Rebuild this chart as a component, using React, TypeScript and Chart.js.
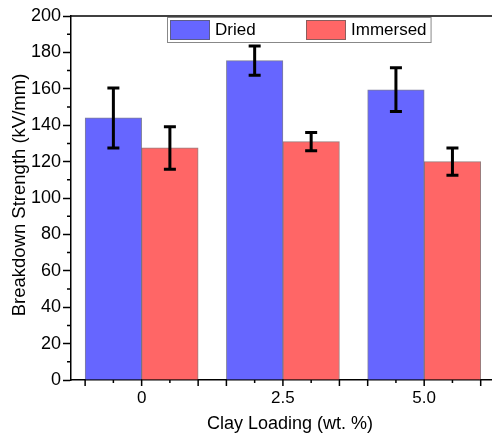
import React, { useEffect, useRef } from 'react';
import { Chart, registerables } from 'chart.js';

Chart.register(...registerables);

const categoryValues = [0, 2.5, 5];
const categoryLabels = ['0', '2.5', '5.0'];
const seriesNames = ['Dried', 'Immersed'];
const driedValues = [144, 175.5, 159.5];
const driedErrors = [16.5, 8, 12];
const immersedValues = [127.5, 131, 120];
const immersedErrors = [11.7, 5, 7.5];
const yMin = 0;
const yMax = 200;
const yStep = 20;
const xMin = -1.25;
const xMax = 6.2;
const xTitle = 'Clay Loading (wt. %)';
const yTitle = 'Breakdown Strength (kV/mm)';

const FONT = '"Liberation Sans", Arial, Helvetica, sans-serif';
const BLUE = '#6666FF';
const RED = '#FF6666';
const GROUP_SHIFT = 0.5; // each bar sits half a unit either side of the category

const errorBarPlugin = {
  id: 'errorBars',
  afterDatasetsDraw(chart: any) {
    const ctx = chart.ctx;
    const y = chart.scales.y;
    chart.data.datasets.forEach((ds: any, di: number) => {
      const meta = chart.getDatasetMeta(di);
      meta.data.forEach((bar: any, i: number) => {
        const v = ds.data[i].y;
        const e = ds.errors[i];
        const top = y.getPixelForValue(v + e);
        const bot = y.getPixelForValue(v - e);
        ctx.save();
        ctx.strokeStyle = '#000';
        ctx.lineWidth = 3;
        ctx.lineCap = 'butt';
        ctx.beginPath();
        ctx.moveTo(bar.x, top);
        ctx.lineTo(bar.x, bot);
        ctx.moveTo(bar.x - 6, top);
        ctx.lineTo(bar.x + 6, top);
        ctx.moveTo(bar.x - 6, bot);
        ctx.lineTo(bar.x + 6, bot);
        ctx.stroke();
        ctx.restore();
      });
    });
  },
};

const decorPlugin = {
  id: 'decor',
  afterDraw(chart: any) {
    const ctx = chart.ctx;
    const area = chart.chartArea;
    const x = chart.scales.x;
    const y = chart.scales.y;
    ctx.save();
    ctx.strokeStyle = '#000';
    ctx.lineWidth = 1.5;
    // frame top
    ctx.beginPath();
    ctx.moveTo(area.left, area.top);
    ctx.lineTo(area.right, area.top);
    ctx.stroke();
    // y minor ticks
    const ticks = y.ticks;
    ctx.beginPath();
    for (let i = 0; i < ticks.length - 1; i++) {
      const mid = (ticks[i].value + ticks[i + 1].value) / 2;
      const py = y.getPixelForValue(mid);
      ctx.moveTo(area.left - 4, py);
      ctx.lineTo(area.left, py);
    }
    ctx.stroke();
    // x ticks at bar edges (long) and centers (short)
    ctx.beginPath();
    chart.data.datasets.forEach((_ds: any, di: number) => {
      const meta = chart.getDatasetMeta(di);
      meta.data.forEach((bar: any) => {
        const half = bar.width / 2;
        [bar.x - half, bar.x + half].forEach((px: number) => {
          ctx.moveTo(px, area.bottom);
          ctx.lineTo(px, area.bottom + 6);
        });
        ctx.moveTo(bar.x, area.bottom);
        ctx.lineTo(bar.x, area.bottom + 3);
      });
    });
    ctx.stroke();

    // axis titles
    ctx.fillStyle = '#000';
    ctx.font = `18px ${FONT}`;
    ctx.textAlign = 'center';
    ctx.textBaseline = 'middle';
    ctx.fillText(xTitle, (x.left + x.right) / 2 + 8.5, x.bottom - 12);
    ctx.save();
    ctx.translate(19.5, (area.top + area.bottom) / 2 - 3);
    ctx.rotate(-Math.PI / 2);
    ctx.font = `18.5px ${FONT}`;
    ctx.fillText(yTitle, 0, 0);
    ctx.restore();

    // legend
    const lx = area.left + 96;
    const ly = area.top + 1;
    ctx.font = `17px ${FONT}`;
    const w2 = ctx.measureText(seriesNames[1]).width;
    const itemOffsets = [3, 139];
    const boxW = itemOffsets[1] + 40 + 5 + w2 + 4;
    const boxH = 25;
    ctx.fillStyle = '#fff';
    ctx.fillRect(lx, ly, boxW, boxH);
    ctx.strokeStyle = '#888';
    ctx.lineWidth = 1;
    ctx.strokeRect(lx + 0.5, ly + 0.5, boxW, boxH);
    chart.data.datasets.forEach((ds: any, di: number) => {
      const sx = lx + itemOffsets[di];
      ctx.fillStyle = ds.backgroundColor;
      ctx.fillRect(sx, ly + 3, 40, 20);
      ctx.strokeStyle = 'rgba(90,90,90,0.7)';
      ctx.strokeRect(sx + 0.5, ly + 3.5, 39, 19);
      ctx.fillStyle = '#000';
      ctx.textAlign = 'left';
      ctx.textBaseline = 'middle';
      ctx.fillText(ds.label, sx + 45, ly + 13.5);
    });
    ctx.restore();
  },
};

export default function App() {
  const ref = useRef<HTMLCanvasElement>(null);
  useEffect(() => {
    if (!ref.current) return;
    const chart = new Chart(ref.current, {
      type: 'bar',
      data: {
        datasets: [
          {
            label: seriesNames[0],
            data: driedValues.map((v, i) => ({ x: categoryValues[i] - GROUP_SHIFT, y: v })),
            errors: driedErrors,
            backgroundColor: BLUE,
            borderColor: 'rgba(70,70,110,0.7)',
            borderWidth: 1,
          } as any,
          {
            label: seriesNames[1],
            data: immersedValues.map((v, i) => ({ x: categoryValues[i] + GROUP_SHIFT, y: v })),
            errors: immersedErrors,
            backgroundColor: RED,
            borderColor: 'rgba(110,70,70,0.7)',
            borderWidth: 1,
          } as any,
        ],
      },
      options: {
        responsive: false,
        animation: false,
        devicePixelRatio: 1,
        layout: { padding: { top: 16, right: 0, left: 0, bottom: 0 } },
        datasets: { bar: { categoryPercentage: 1, barPercentage: 1, grouped: false } },
        plugins: {
          legend: { display: false },
          title: { display: false },
          tooltip: { enabled: false },
        },
        scales: {
          x: {
            type: 'linear',
            min: xMin,
            max: xMax,
            offset: false,
            z: 1,
            grid: { display: false, offset: false },
            border: { display: true, color: '#000', width: 1.5 },
            afterBuildTicks(scale: any) {
              scale.ticks = categoryValues.map((v) => ({ value: v }));
            },
            ticks: {
              color: '#000',
              padding: 0,
              autoSkip: false,
              maxRotation: 0,
              font: { family: FONT, size: 17 },
              callback: (value: number) => {
                const idx = categoryValues.indexOf(value);
                return idx >= 0 ? categoryLabels[idx] : '';
              },
            },
            afterFit(scale: any) {
              scale.height = 56;
            },
          },
          y: {
            min: yMin,
            max: yMax,
            grid: {
              display: true,
              drawOnChartArea: false,
              drawTicks: true,
              tickLength: 8,
              tickColor: '#000',
              tickWidth: 1.5,
            },
            border: { display: true, color: '#000', width: 1.5 },
            ticks: {
              stepSize: yStep,
              color: '#000',
              padding: 2,
              font: { family: FONT, size: 18 },
            },
            afterFit(scale: any) {
              scale.width = 71;
            },
          },
        },
      },
      plugins: [errorBarPlugin, decorPlugin],
    } as any);
    return () => chart.destroy();
  }, []);
  return (
    <div
      style={{
        position: 'fixed',
        left: 0,
        top: 0,
        width: 492,
        height: 436,
        overflow: 'hidden',
        background: '#fff',
      }}
    >
      <canvas ref={ref} width={492} height={436} style={{ display: 'block', width: 492, height: 436 }} />
    </div>
  );
}
